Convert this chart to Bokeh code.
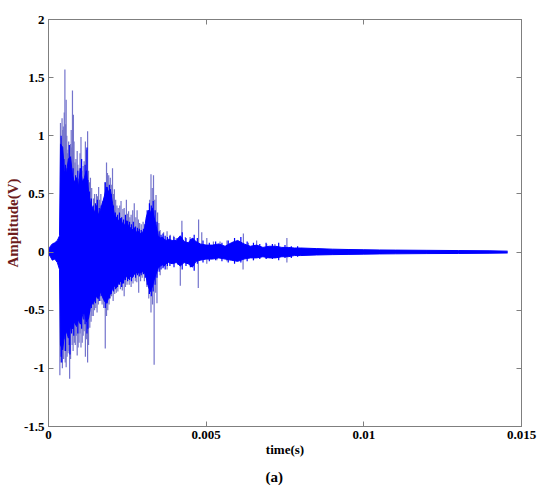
from bokeh.plotting import figure
from bokeh.models import FixedTicker, LinearAxis, Range1d, Title, CustomLabelingPolicy
from bokeh.embed import file_html
from bokeh.resources import INLINE

# ---- data (time in s, amplitude in V) ----
core_t = [0.00000, 0.00006, 0.00012, 0.00020, 0.00028, 0.00035, 0.00038, 0.00045, 0.00050, 0.00057,
          0.00063, 0.00070, 0.00076, 0.00082, 0.00089, 0.00095, 0.00101, 0.00108, 0.00114, 0.00120,
          0.00127, 0.00133, 0.00140, 0.00146, 0.00152, 0.00158, 0.00165, 0.00171, 0.00177, 0.00184,
          0.00190, 0.00196, 0.00203, 0.00209, 0.00215, 0.00222, 0.00228, 0.00234, 0.00241, 0.00247,
          0.00253, 0.00260, 0.00266, 0.00272, 0.00279, 0.00285, 0.00291, 0.00298, 0.00304, 0.00310,
          0.00317, 0.00323, 0.00329, 0.00335, 0.00342, 0.00348, 0.00354, 0.00361, 0.00367, 0.00373,
          0.00380, 0.00392, 0.00405, 0.00418, 0.00430, 0.00443, 0.00456, 0.00468, 0.00481, 0.00500,
          0.00520, 0.00540, 0.00560, 0.00580, 0.00600, 0.00620, 0.00640, 0.00660, 0.00680, 0.00700,
          0.00720, 0.00740, 0.00760, 0.00780, 0.00800, 0.00850, 0.00900, 0.00950, 0.01000, 0.01050,
          0.01100, 0.01200, 0.01300, 0.01400, 0.01456]
core_hi = [0.02, 0.05, 0.07, 0.08, 0.10, 0.14, 0.93, 0.90, 0.70, 0.68,
           0.80, 0.82, 0.66, 0.60, 0.64, 0.56, 0.72, 0.60, 0.64, 0.70,
           0.52, 0.42, 0.38, 0.34, 0.40, 0.32, 0.36, 0.42, 0.48, 0.56,
           0.52, 0.54, 0.42, 0.32, 0.30, 0.27, 0.29, 0.25, 0.23, 0.27,
           0.23, 0.21, 0.19, 0.21, 0.17, 0.18, 0.16, 0.17, 0.19, 0.30,
           0.36, 0.34, 0.38, 0.30, 0.22, 0.14, 0.12, 0.13, 0.11, 0.10,
           0.11, 0.10, 0.10, 0.14, 0.09, 0.08, 0.12, 0.09, 0.07, 0.06,
           0.06, 0.07, 0.05, 0.08, 0.10, 0.07, 0.05, 0.06, 0.04, 0.05,
           0.05, 0.04, 0.04, 0.035, 0.035, 0.03, 0.025, 0.022, 0.02, 0.018,
           0.017, 0.015, 0.013, 0.011, 0.008]
core_lo = [-0.02, -0.04, -0.07, -0.06, -0.09, -0.15, -0.80, -0.84, -0.72, -0.68,
           -0.74, -0.64, -0.66, -0.60, -0.64, -0.58, -0.62, -0.54, -0.52, -0.60,
           -0.57, -0.47, -0.44, -0.42, -0.38, -0.40, -0.34, -0.38, -0.42, -0.44,
           -0.40, -0.36, -0.32, -0.29, -0.31, -0.27, -0.25, -0.27, -0.23, -0.21,
           -0.23, -0.21, -0.22, -0.19, -0.18, -0.18, -0.18, -0.17, -0.17, -0.22,
           -0.30, -0.34, -0.30, -0.24, -0.18, -0.14, -0.12, -0.11, -0.12, -0.10,
           -0.09, -0.10, -0.09, -0.12, -0.09, -0.10, -0.13, -0.08, -0.07, -0.06,
           -0.06, -0.05, -0.06, -0.07, -0.08, -0.06, -0.05, -0.05, -0.04, -0.05,
           -0.05, -0.04, -0.04, -0.03, -0.03, -0.025, -0.022, -0.02, -0.018, -0.016,
           -0.015, -0.013, -0.012, -0.01, -0.008]

# medium, densely packed oscillations (full blue)
mid_t = [0.00040, 0.00042, 0.00049, 0.00054, 0.00059, 0.00066, 0.00068, 0.00073, 0.00078, 0.00080,
         0.00086, 0.00093, 0.00099, 0.00105, 0.00112, 0.00116, 0.00122, 0.00125, 0.00130, 0.00136,
         0.00142, 0.00149, 0.00155, 0.00161, 0.00167, 0.00173, 0.00180, 0.00186, 0.00193, 0.00199,
         0.00206, 0.00212, 0.00219, 0.00225, 0.00232, 0.00238, 0.00244, 0.00251, 0.00257, 0.00263,
         0.00269, 0.00276, 0.00282, 0.00288, 0.00294, 0.00301, 0.00307, 0.00313, 0.00320, 0.00326,
         0.00332, 0.00338, 0.00344, 0.00351, 0.00357, 0.00363, 0.00370, 0.00377, 0.00385, 0.00398,
         0.00411, 0.00424, 0.00436, 0.00450, 0.00462, 0.00472, 0.00490, 0.00510, 0.00530, 0.00550,
         0.00570, 0.00590, 0.00610, 0.00630, 0.00650, 0.00670, 0.00690, 0.00710, 0.00730, 0.00750,
         0.00770, 0.00790]
mid_hi = [1.00, 0.70, 0.80, 0.75, 0.72, 0.92, 0.70, 0.68, 0.72, 0.55,
          0.66, 0.70, 0.58, 0.80, 0.62, 0.75, 0.90, 0.62, 0.52, 0.46,
          0.40, 0.42, 0.45, 0.38, 0.40, 0.44, 0.60, 0.56, 0.58, 0.50,
          0.40, 0.34, 0.32, 0.34, 0.30, 0.28, 0.32, 0.27, 0.26, 0.24,
          0.26, 0.22, 0.21, 0.20, 0.19, 0.20, 0.24, 0.36, 0.42, 0.40,
          0.44, 0.36, 0.26, 0.18, 0.15, 0.16, 0.14, 0.13, 0.14, 0.13,
          0.12, 0.17, 0.12, 0.11, 0.15, 0.12, 0.10, 0.08, 0.09, 0.08,
          0.10, 0.12, 0.13, 0.09, 0.08, 0.07, 0.08, 0.07, 0.08, 0.06,
          0.05, 0.05]
mid_lo = [-0.90, -0.95, -0.75, -0.85, -0.70, -0.80, -0.88, -0.70, -0.66, -0.72,
          -0.62, -0.70, -0.60, -0.66, -0.58, -0.62, -0.70, -0.66, -0.52, -0.48,
          -0.45, -0.44, -0.40, -0.42, -0.38, -0.40, -0.48, -0.44, -0.40, -0.36,
          -0.34, -0.32, -0.30, -0.28, -0.30, -0.27, -0.24, -0.25, -0.24, -0.25,
          -0.21, -0.22, -0.20, -0.21, -0.20, -0.19, -0.22, -0.28, -0.36, -0.38,
          -0.34, -0.28, -0.22, -0.17, -0.15, -0.14, -0.15, -0.12, -0.12, -0.13,
          -0.11, -0.15, -0.12, -0.13, -0.16, -0.10, -0.09, -0.08, -0.07, -0.08,
          -0.09, -0.10, -0.09, -0.08, -0.07, -0.06, -0.06, -0.06, -0.07, -0.05,
          -0.05, -0.04]

# single peaks (drawn lighter, as in the picture)
up_t = [0.00038, 0.00040, 0.00043, 0.00045, 0.00047, 0.00050, 0.00052, 0.00054, 0.00056, 0.00058,
        0.00060, 0.00062, 0.00064, 0.00067, 0.00070, 0.00072, 0.00074, 0.00076, 0.00079, 0.00081,
        0.00084, 0.00087, 0.00091, 0.00093, 0.00095, 0.00098, 0.00100, 0.00103, 0.00106, 0.00110,
        0.00113, 0.00117, 0.00120, 0.00124, 0.00127, 0.00130, 0.00133, 0.00137, 0.00143, 0.00146,
        0.00152, 0.00155, 0.00159, 0.00162, 0.00166, 0.00170, 0.00175, 0.00179, 0.00184, 0.00187,
        0.00191, 0.00196, 0.00199, 0.00203, 0.00206, 0.00209, 0.00213, 0.00217, 0.00221, 0.00226,
        0.00230, 0.00236, 0.00240, 0.00247, 0.00250, 0.00254, 0.00258, 0.00262, 0.00267, 0.00272,
        0.00277, 0.00281, 0.00285, 0.00289, 0.00294, 0.00300, 0.00305, 0.00310, 0.00317, 0.00321,
        0.00325, 0.00329, 0.00333, 0.00337, 0.00341, 0.00346, 0.00350, 0.00354, 0.00365, 0.00376,
        0.00386, 0.00397, 0.00405, 0.00423, 0.00434, 0.00449, 0.00460, 0.00476, 0.00486, 0.00502,
        0.00523, 0.00544, 0.00566, 0.00586, 0.00618, 0.00634, 0.00660, 0.00692, 0.00718, 0.00756]
up_v = [1.11, 0.98, 1.15, 1.05, 1.08, 1.20, 1.57, 1.10, 1.31, 1.00,
        0.85, 0.88, 0.95, 0.82, 0.93, 1.05, 0.90, 1.39, 1.18, 0.95,
        0.77, 0.80, 0.87, 0.75, 0.63, 0.72, 0.85, 0.99, 0.70, 0.74,
        0.78, 0.95, 0.88, 1.04, 0.70, 0.60, 0.64, 0.55, 0.46, 0.50,
        0.50, 0.48, 0.56, 0.45, 0.50, 0.42, 0.45, 0.60, 0.77, 0.68,
        0.66, 0.64, 0.58, 0.72, 0.50, 0.54, 0.45, 0.40, 0.38, 0.40,
        0.44, 0.37, 0.38, 0.45, 0.33, 0.35, 0.30, 0.32, 0.36, 0.42,
        0.30, 0.36, 0.28, 0.25, 0.24, 0.26, 0.24, 0.25, 0.27, 0.45,
        0.67, 0.55, 0.66, 0.45, 0.49, 0.34, 0.25, 0.19, 0.17, 0.18,
        0.15, 0.14, 0.12, 0.27, 0.13, 0.13, 0.12, 0.28, 0.17, 0.12,
        0.09, 0.09, 0.10, 0.09, 0.16, 0.08, 0.10, 0.07, 0.07, 0.12]

down_t = [0.00036, 0.00039, 0.00041, 0.00044, 0.00048, 0.00051, 0.00053, 0.00056, 0.00059, 0.00062,
          0.00065, 0.00067, 0.00070, 0.00075, 0.00078, 0.00082, 0.00085, 0.00088, 0.00091, 0.00094,
          0.00097, 0.00100, 0.00103, 0.00107, 0.00110, 0.00113, 0.00117, 0.00120, 0.00124, 0.00127,
          0.00131, 0.00135, 0.00138, 0.00142, 0.00146, 0.00150, 0.00154, 0.00158, 0.00162, 0.00166,
          0.00170, 0.00175, 0.00180, 0.00184, 0.00188, 0.00192, 0.00196, 0.00200, 0.00205, 0.00210,
          0.00215, 0.00220, 0.00228, 0.00234, 0.00240, 0.00244, 0.00249, 0.00256, 0.00262, 0.00268,
          0.00275, 0.00280, 0.00286, 0.00292, 0.00297, 0.00304, 0.00312, 0.00318, 0.00325, 0.00330,
          0.00335, 0.00340, 0.00344, 0.00354, 0.00365, 0.00376, 0.00397, 0.00418, 0.00439, 0.00460,
          0.00475, 0.00502, 0.00534, 0.00566, 0.00597, 0.00617, 0.00650, 0.00692, 0.00724, 0.00756]
down_v = [-1.06, -0.95, -0.88, -1.00, -0.92, -0.85, -0.95, -0.99, -0.90, -0.87,
          -0.85, -1.09, -0.92, -0.80, -0.85, -0.78, -0.80, -0.72, -0.89, -0.82,
          -0.78, -0.70, -0.82, -0.78, -0.72, -0.68, -0.90, -0.75, -0.95, -0.80,
          -0.65, -0.60, -0.55, -0.55, -0.50, -0.48, -0.52, -0.45, -0.38, -0.42,
          -0.45, -0.48, -0.83, -0.55, -0.50, -0.45, -0.40, -0.38, -0.42, -0.36,
          -0.35, -0.34, -0.32, -0.33, -0.38, -0.30, -0.28, -0.28, -0.30, -0.27,
          -0.25, -0.26, -0.35, -0.25, -0.22, -0.25, -0.30, -0.40, -0.52, -0.45,
          -0.97, -0.35, -0.44, -0.20, -0.13, -0.15, -0.10, -0.29, -0.10, -0.12,
          -0.31, -0.10, -0.07, -0.08, -0.08, -0.15, -0.07, -0.06, -0.05, -0.09]

x_ticks = [0, 0.005, 0.01, 0.015]
x_tick_labels = ["0", "0.005", "0.01", "0.015"]
y_ticks = [-1.5, -1, -0.5, 0, 0.5, 1, 1.5, 2]
y_tick_labels = ["-1.5", "-1", "-0.5", "0", "0.5", "1", "1.5", "2"]

FONT = "Liberation Serif"
GRAY = "#7f7f7f"
BLUE = "#0000ff"
LIGHT = "#7474cc"

p = figure(width=545, height=500, output_backend="svg", toolbar_location=None,
           x_range=Range1d(0, 0.015), y_range=Range1d(-1.5, 2),
           min_border_left=48, min_border_right=23, min_border_top=19, min_border_bottom=74)
p.grid.visible = False
p.outline_line_color = GRAY
p.background_fill_color = "white"
p.border_fill_color = "white"

# signal: light peaks first, dense blue body on top
p.segment(x0=up_t, y0=[0] * len(up_t), x1=up_t, y1=up_v, line_color=LIGHT, line_width=1.2)
p.segment(x0=down_t, y0=[0] * len(down_t), x1=down_t, y1=down_v, line_color=LIGHT, line_width=1.2)
p.varea(x=core_t, y1=core_lo, y2=core_hi, fill_color=BLUE)
p.line(x=core_t, y=core_hi, line_color=BLUE, line_width=1)
p.line(x=core_t, y=core_lo, line_color=BLUE, line_width=1)
p.segment(x0=mid_t, y0=mid_lo, x1=mid_t, y1=mid_hi, line_color=BLUE, line_width=1.2)


def style(ax, ticks, labels, show):
    ax.ticker = FixedTicker(ticks=ticks)
    ax.major_label_overrides = {t: l for t, l in zip(ticks, labels)}
    ax.axis_line_color = GRAY
    ax.major_tick_line_color = GRAY
    ax.major_tick_in = 5
    ax.major_tick_out = 0
    ax.minor_tick_line_color = None
    ax.major_label_text_font = FONT
    ax.major_label_text_font_style = "bold"
    ax.major_label_text_font_size = "13px"
    ax.major_label_text_color = "black"
    ax.major_label_standoff = 4
    if not show:
        ax.major_label_standoff = 0
        ax.major_label_policy = CustomLabelingPolicy(code="""
            const ids = Array.from(indices);
            for (const i of ids) {
                if (indices.unset) { indices.unset(i); } else { indices.set(i, false); }
            }
            return indices;
        """)


style(p.xaxis[0], x_ticks, x_tick_labels, True)
style(p.yaxis[0], y_ticks, y_tick_labels, True)
p.xaxis[0].major_label_standoff = 4
p.yaxis[0].major_label_standoff = 4

p.xaxis[0].axis_label = "time(s)"
p.xaxis[0].axis_label_text_font = FONT
p.xaxis[0].axis_label_text_font_style = "bold"
p.xaxis[0].axis_label_text_font_size = "13px"
p.xaxis[0].axis_label_text_color = "black"
p.xaxis[0].axis_label_standoff = 0

p.yaxis[0].axis_label = "Amplitude(V)"
p.yaxis[0].axis_label_text_font = FONT
p.yaxis[0].axis_label_text_font_style = "bold"
p.yaxis[0].axis_label_text_font_size = "15px"
p.yaxis[0].axis_label_text_color = "#6e1c1c"
p.yaxis[0].axis_label_standoff = 0

top = LinearAxis()
style(top, x_ticks, x_tick_labels, False)
p.add_layout(top, "above")
right = LinearAxis()
style(right, y_ticks, y_tick_labels, False)
p.add_layout(right, "right")

p.add_layout(Title(text="(a)", align="left", offset=217, standoff=14, text_font=FONT,
                   text_font_style="bold", text_font_size="15px", text_color="black"), "below")

open("out.html", "w").write(file_html(p, INLINE))
